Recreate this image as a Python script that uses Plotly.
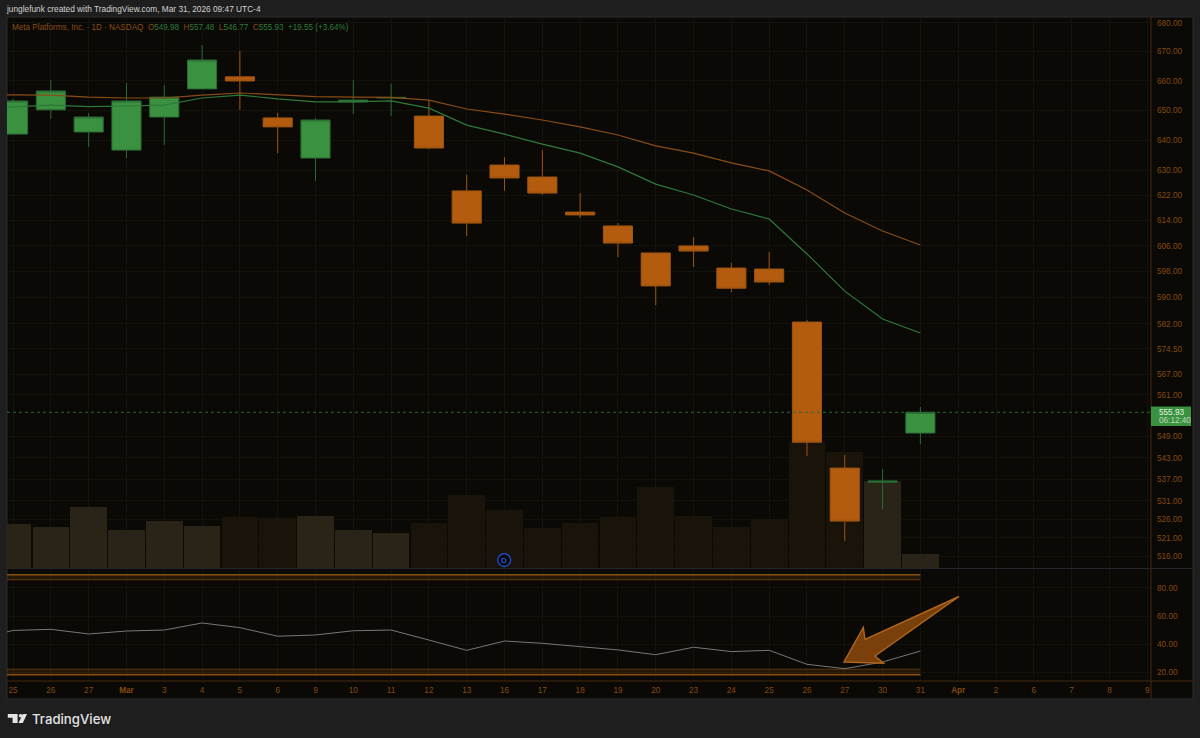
import plotly.graph_objects as go

# session labels on the time axis (last 6 are empty future slots)
tick_labels = ['25', '26', '27', '<b>Mar</b>', '3', '4', '5', '6', '9', '10', '11', '12', '13',
               '16', '17', '18', '19', '20', '23', '24', '25', '26', '27', '30', '31',
               '<b>Apr</b>', '2', '6', '7', '8', '9']

opens = [642.0, 650.1, 642.7, 636.7, 647.7, 657.2, 661.3, 647.4, 634.1, 652.8, 654.1, 648.0,
         623.4, 631.8, 627.9, 616.6, 612.2, 603.7, 605.9, 599.0, 598.7, 582.5, 540.1, 536.2, 549.98]
highs = [653.8, 660.2, 649.1, 659.2, 658.5, 672.3, 670.2, 649.1, 647.4, 660.2, 659.0, 653.4,
         628.6, 634.4, 636.7, 622.7, 613.1, 603.7, 608.7, 600.6, 604.0, 583.1, 543.8, 539.8, 557.48]
lows = [642.0, 647.0, 637.7, 634.1, 638.4, 657.2, 650.1, 635.7, 626.6, 648.7, 648.0, 637.0,
        609.0, 623.4, 622.1, 614.7, 602.4, 587.6, 599.3, 591.6, 593.8, 543.5, 520.1, 528.8, 546.77]
closes = [653.1, 656.5, 647.7, 653.1, 654.4, 667.1, 659.9, 644.4, 646.7, 653.4, 654.3, 637.4,
          613.1, 627.6, 622.7, 615.7, 606.8, 593.5, 604.3, 592.8, 594.7, 547.4, 525.5, 536.5, 555.93]
volumes = [8.8, 8.2, 12.2, 7.6, 9.4, 8.4, 10.2, 10.0, 10.4, 7.6, 7.0, 9.0, 14.6, 11.6, 8.0, 9.0,
           10.2, 16.2, 10.4, 8.2, 9.8, 25.2, 23.2, 17.4, 2.8]

# these three start one session earlier, off the left edge
ma_slow = [655.2, 655.1, 655.1, 654.4, 654.1, 654.1, 655.1, 655.8, 655.1, 654.6, 654.4, 654.3, 653.4,
           650.4, 648.7, 646.7, 644.4, 641.7, 638.1, 635.7, 632.5, 629.9, 623.7, 616.3, 610.6, 606.2]
ma_fast = [650.8, 651.1, 651.7, 651.2, 651.4, 651.7, 654.1, 655.1, 653.8, 652.8, 652.8, 653.1, 650.7,
           645.0, 642.0, 638.7, 635.7, 631.2, 625.6, 622.1, 617.6, 614.4, 603.4, 591.9, 583.4, 579.2]
rsi = [43.3, 49.8, 50.6, 47.3, 49.4, 50.1, 55.1, 51.8, 45.7, 46.6, 49.6, 50.1, 43.0,
       35.7, 42.3, 40.7, 38.3, 36.0, 32.6, 37.9, 34.8, 35.7, 25.8, 22.7, 27.4, 35.2]

rsi_upper = [89.4, 85.8]
rsi_lower = [18.4, 22.3]

price_ticks = [680, 670, 660, 650, 640, 630, 622, 614, 606, 598, 590, 582, 574.5, 567, 561,
               549, 543, 537, 531, 526, 521, 516]
rsi_ticks = [80, 60, 40, 20]

GREEN = '#3a9140'
GREEN_DIM = '#2a6a33'
ORANGE = '#b35c10'
AXIS_TEXT = '#85490f'
GRID = '#14120d'
FONT = 'Liberation Sans'
TICK_SIZE = 8.2


def px(x):
    return x / 1200


def py(y):
    return 1 - y / 738


x_all = list(range(len(tick_labels)))
x_bars = x_all[:len(closes)]
x_lines = [i - 1 for i in range(len(rsi))]
x_range = [-0.16, 30.1]

vol_colors = ['#2a2418' if c >= o else '#1a130a' for o, c in zip(opens, closes)]

fig = go.Figure()

fig.add_trace(go.Bar(x=x_bars, y=volumes, marker=dict(color=vol_colors, line=dict(width=0)),
                     width=0.97, xaxis='x', yaxis='y'))

fig.add_trace(go.Candlestick(
    x=x_bars, open=opens, high=highs, low=lows, close=closes, xaxis='x', yaxis='y2',
    whiskerwidth=0,
    increasing=dict(fillcolor=GREEN, line=dict(color=GREEN_DIM, width=1)),
    decreasing=dict(fillcolor=ORANGE, line=dict(color='#a05510', width=1)),
))
fig.add_trace(go.Scatter(x=x_lines, y=ma_slow, mode='lines', line=dict(color='#8a4d18', width=1.2),
                         xaxis='x', yaxis='y2'))
fig.add_trace(go.Scatter(x=x_lines, y=ma_fast, mode='lines', line=dict(color='#2f7a3a', width=1.2),
                         xaxis='x', yaxis='y2'))

# RSI pane: two bands and the line
band_x = [x_lines[0], x_bars[-1]]
for vals in (rsi_upper, rsi_lower):
    for i, v in enumerate(vals):
        fig.add_trace(go.Scatter(
            x=band_x, y=[v, v], mode='lines', xaxis='x2', yaxis='y3',
            line=dict(color='#8a5010' if i == 0 else '#5c3a10', width=1.5 if i == 0 else 1),
            fill='tonexty' if i == 1 else None,
            fillcolor='rgba(180,100,20,0.16)',
        ))
fig.add_trace(go.Scatter(x=x_lines, y=rsi, mode='lines', line=dict(color='#77777a', width=1),
                         xaxis='x2', yaxis='y3'))

shapes = [
    # chart panel
    dict(type='rect', xref='paper', yref='paper', x0=px(7), x1=px(1193), y0=py(699), y1=py(17),
         fillcolor='#0a0905', line=dict(color='#2c2c2c', width=1), layer='below'),
    # scale borders
    dict(type='line', xref='paper', yref='paper', x0=px(1151), x1=px(1151), y0=py(699), y1=py(17),
         line=dict(color='#45290f', width=1)),
    dict(type='line', xref='paper', yref='paper', x0=px(7), x1=px(1193), y0=py(681), y1=py(681),
         line=dict(color='#45290f', width=1)),
    dict(type='line', xref='paper', yref='paper', x0=px(7), x1=px(1193), y0=py(568.5), y1=py(568.5),
         line=dict(color='#26262a', width=1)),
    # last price line
    dict(type='line', xref='paper', yref='y2', x0=px(7), x1=px(1151), y0=closes[-1], y1=closes[-1],
         line=dict(color='#2a6a33', width=1, dash='dot')),
    dict(type='rect', xref='paper', yref='paper', x0=px(1151), x1=px(1191), y0=py(426), y1=py(406.5),
         fillcolor=GREEN, line=dict(width=0)),
    # dividend badge
    dict(type='circle', xref='paper', yref='paper', x0=px(497.8), x1=px(510.6), y0=py(566.5), y1=py(553.7),
         fillcolor='#0a0905', line=dict(color='#1c50d8', width=1.3)),
    # hand drawn arrow
    dict(type='path', xref='paper', yref='paper',
         path='M %f %f L %f %f L %f %f L %f %f L %f %f L %f %f Z' % (
             px(959), py(596.5), px(865), py(639.5), px(863.3), py(627.5),
             px(844), py(662), px(883.5), py(663.3), px(875), py(656)),
         fillcolor='rgba(176,92,16,0.68)', line=dict(color='#b0651c', width=1.5)),
    # logo
    dict(type='path', xref='paper', yref='paper',
         path='M %f %f L %f %f L %f %f L %f %f L %f %f L %f %f Z' % (
             px(7.8), py(714), px(17.6), py(714), px(17.6), py(723), px(12.6), py(723), px(12.6), py(717.8), px(7.8), py(717.8)),
         fillcolor='#e4e4e4', line=dict(width=0)),
    dict(type='circle', xref='paper', yref='paper', x0=px(18.8), x1=px(22.4), y0=py(717.6), y1=py(714),
         fillcolor='#e4e4e4', line=dict(width=0)),
    dict(type='path', xref='paper', yref='paper',
         path='M %f %f L %f %f L %f %f L %f %f Z' % (
             px(22.8), py(714), px(27), py(714), px(22.8), py(723), px(18.4), py(723)),
         fillcolor='#e4e4e4', line=dict(width=0)),
]


def label(x, y, text, size=TICK_SIZE, color=AXIS_TEXT, anchor='left', family=FONT, weight=None):
    font = dict(family=family, size=size, color=color)
    if weight:
        font['weight'] = weight
    return dict(x=px(x), y=py(y), xref='paper', yref='paper', text=text, showarrow=False,
                xanchor=anchor, yanchor='middle', font=font)


header = ('<span style="color:#8a4d18">Meta Platforms, Inc. · 1D · NASDAQ</span>'
          '  <span style="color:#8a4d18">O</span><span style="color:#2f7a3a">549.98</span>'
          '  <span style="color:#8a4d18">H</span><span style="color:#2f7a3a">557.48</span>'
          '  <span style="color:#8a4d18">L</span><span style="color:#2f7a3a">546.77</span>'
          '  <span style="color:#8a4d18">C</span><span style="color:#2f7a3a">555.93</span>'
          '  <span style="color:#2f7a3a">+19.55 (+3.64%)</span>')

annotations = [
    label(4, 9.5, 'junglefunk created with TradingView.com, Mar 31, 2026 09:47 UTC-4', size=8.3, color='#d2d2d2'),
    label(10, 28, header, size=8.15),
    label(1156.5, 412, '555.93', color='#e4f2e4'),
    label(1156.5, 420.6, '06:12:40', color='#bcdcbc'),
    label(504.2, 560.3, '<b>D</b>', size=8, color='#1c50d8', anchor='center'),
    label(30, 718.5, 'TradingView', size=13.2, color='#e4e4e4', family='Inter', weight=500),
]

main_domain = [py(568), py(17)]
rsi_domain = [py(680.5), py(569)]
tick_font = dict(family=FONT, size=TICK_SIZE, color=AXIS_TEXT)

fig.update_layout(
    width=1200,
    height=738,
    margin=dict(l=0, r=0, t=0, b=0),
    paper_bgcolor='#1e1e1e',
    plot_bgcolor='rgba(0,0,0,0)',
    showlegend=False,
    hovermode=False,
    barmode='overlay',
    bargap=0,
    boxgap=0.23,
    boxgroupgap=0,
    shapes=shapes,
    annotations=annotations,
    xaxis=dict(domain=[px(7), px(1151)], range=x_range, anchor='y', tickmode='array', tickvals=x_all,
               showticklabels=False, showgrid=True, gridcolor=GRID, gridwidth=1, zeroline=False,
               rangeslider=dict(visible=False)),
    xaxis2=dict(domain=[px(7), px(1151)], range=x_range, anchor='y3', tickmode='array', tickvals=x_all,
                ticktext=tick_labels, tickfont=tick_font, tickangle=0,
                ticklabelstandoff=3, showgrid=True, gridcolor=GRID, gridwidth=1, zeroline=False),
    # volume sits under the price axis, height scale only
    yaxis=dict(domain=main_domain, range=[0, 110.2], visible=False, anchor='x'),
    yaxis2=dict(domain=main_domain, type='log', range=[2.71003, 2.83385], overlaying='y', side='right',
                anchor='x', tickmode='array', tickvals=price_ticks,
                ticktext=['%.2f' % v for v in price_ticks],
                tickfont=tick_font, ticklabelstandoff=5,
                showgrid=True, gridcolor=GRID, gridwidth=1, zeroline=False),
    yaxis3=dict(domain=rsi_domain, range=[14.3, 93.4], side='right', anchor='x2', tickmode='array',
                tickvals=rsi_ticks, ticktext=['%.2f' % v for v in rsi_ticks],
                tickfont=tick_font, ticklabelstandoff=5,
                showgrid=True, gridcolor=GRID, gridwidth=1, zeroline=False),
)

# page default margin would push the fixed size figure off the window
fig.write_html("out.html", config=dict(displayModeBar=False),
               post_script="document.body.style.margin='0';document.documentElement.style.overflow='hidden';")
